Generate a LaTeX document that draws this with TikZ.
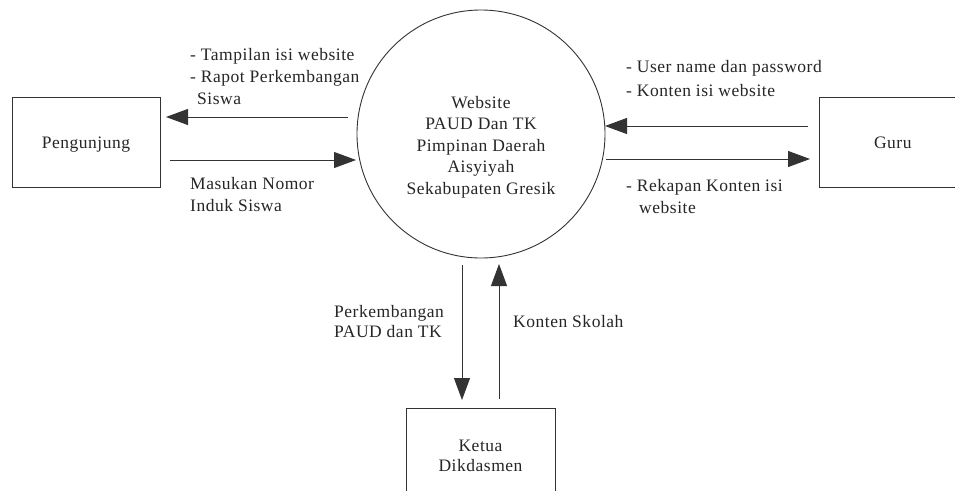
\documentclass[tikz,border=0pt]{standalone}
\usepackage{fontspec}
\setmainfont{Liberation Serif}[LetterSpace=3]
\usetikzlibrary{arrows.meta}
\begin{document}
\begin{tikzpicture}[x=1pt,y=-1pt,
  every node/.style={font=\fontsize{17.5}{22}\selectfont, text=black!85, inner sep=0pt},
  entity/.style={draw=black!80, line width=0.9pt},
  arr/.style={draw=black!80, line width=0.9pt, -{Triangle[length=22pt,width=16pt]}},
  lbl/.style={align=left, anchor=north west},
]
\clip (0,0) rectangle (955,490);
\fill[white] (0,0) rectangle (955,490);
% process
\node[draw=black!80, line width=0.9pt, circle, minimum size=248pt] (web) at (481,134) {};
\node[align=center, font=\fontsize{17.5}{21.5}\selectfont] (webtxt) at (481,147)
  {Website\\PAUD Dan TK\\Pimpinan Daerah\\Aisyiyah\\Sekabupaten Gresik};
% entities
\node[entity, minimum width=148pt, minimum height=90pt, text height=12pt, text depth=0pt] (peng) at (86,142) {Pengunjung};
\node[entity, minimum width=150pt, minimum height=90pt, text width=148pt, align=left, text height=12pt, text depth=0pt] (guru) at (894,142) {\hspace{54pt}Guru};
\node[entity, minimum width=149pt, minimum height=120pt] (ketua) at (480.5,468) {};
\node[align=center, font=\fontsize{17.5}{20.5}\selectfont] (ketuatxt) at (480.5,456) {Ketua\\Dikdasmen};
% connector ends
\coordinate (a1s) at (348,117); \coordinate (a1e) at (166,117);
\coordinate (a2s) at (170,160); \coordinate (a2e) at (356,160);
\coordinate (a3s) at (808,126); \coordinate (a3e) at (605,126);
\coordinate (a4s) at (606,159); \coordinate (a4e) at (810,159);
\coordinate (a5s) at (462,265); \coordinate (a5e) at (462,400);
\coordinate (a6s) at (499,399); \coordinate (a6e) at (499,264);
\draw[arr] (a1s) -- (a1e);
\draw[arr] (a2s) -- (a2e);
\draw[arr] (a3s) -- (a3e);
\draw[arr] (a4s) -- (a4e);
\draw[arr] (a5s) -- (a5e);
\draw[arr] (a6s) -- (a6e);
% labels
\node[lbl] (l1) at (190,48) {- Tampilan isi website\\- Rapot Perkembangan\\\hspace{7pt}Siswa};
\node[lbl] (l2) at (190,177) {Masukan Nomor\\Induk Siswa};
\node[lbl, font=\fontsize{17.5}{24}\selectfont] (l3) at (626,60) {- User name dan password\\- Konten isi website};
\node[lbl] (l4) at (626,179) {- Rekapan Konten isi\\\hspace{13pt}website};
\node[lbl, font=\fontsize{17.5}{20.5}\selectfont] (l5) at (334,305) {Perkembangan\\PAUD dan TK};
\node[lbl] (l6) at (513,315) {Konten Skolah};
\end{tikzpicture}
\end{document}
